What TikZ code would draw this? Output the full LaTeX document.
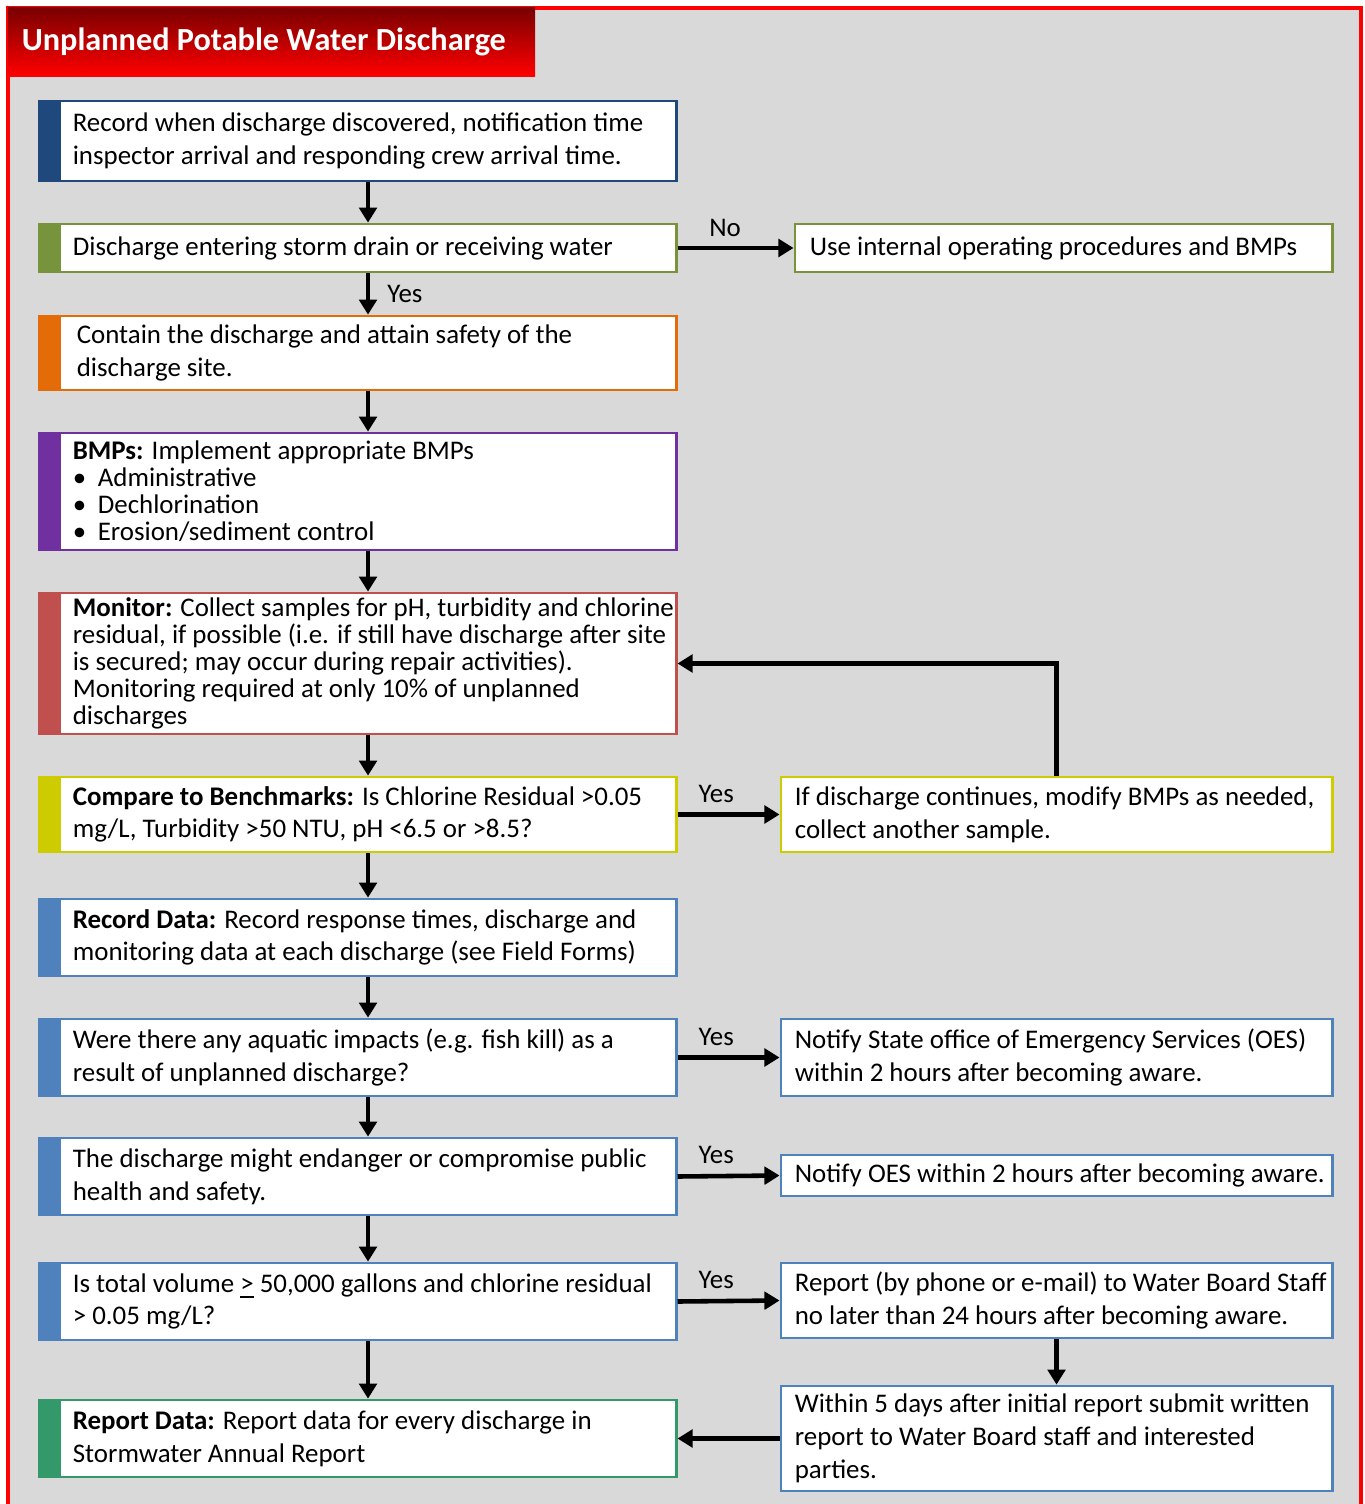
\documentclass[tikz,border=0pt]{standalone}
\usepackage{fontspec}
\setmainfont{Carlito}
\usetikzlibrary{arrows.meta}

\definecolor{panelgray}{HTML}{D9D9D9}
\definecolor{titledark}{HTML}{7A0000}
\definecolor{navy}{HTML}{1F497D}
\definecolor{olive}{HTML}{77933C}
\definecolor{pumpkin}{HTML}{E36C09}
\definecolor{violet}{HTML}{7030A0}
\definecolor{brick}{HTML}{C0504D}
\definecolor{lime}{HTML}{CCCC00}
\definecolor{steel}{HTML}{4F81BD}
\definecolor{jade}{HTML}{33996A}

\newcommand{\bulletitem}[1]{\makebox[0.25cm][l]{\textbullet}#1}

\begin{document}
\begin{tikzpicture}[x=0.01cm, y=-0.01cm,
  every node/.style={font=\fontsize{7.65}{9.3}\selectfont},
  padded/.style 2 args={
    execute at begin node={\hspace*{#1}\begin{minipage}{#2}\raggedright},
    execute at end node={\end{minipage}}},
  framebox/.style={draw=#1, fill=white, line width=0.75pt, inner sep=0pt},
  stepbox/.style={framebox=#1, minimum width=6.36cm, padded={0.33cm}{6.03cm},
    path picture={\fill[#1] (path picture bounding box.north west)
      rectangle ([xshift=0.21cm]path picture bounding box.south west);}},
  sidebox/.style={framebox=#1, minimum width=5.51cm, padded={0.14cm}{5.37cm}},
  narrowbox/.style={framebox=#1, minimum width=5.37cm, padded={0.15cm}{5.22cm}},
  tight/.style={font=\fontsize{7.65}{7.7}\selectfont},
  flow/.style={line width=1.3pt, -{Triangle[width=5pt,length=4.3pt]}},
  lbl/.style={inner sep=0pt}]

  \useasboundingbox (0,0) rectangle (1364,1504);

  % panel and frame
  \fill[panelgray] (8,8) rectangle (1361,1504);
  \draw[red, line width=1.15pt] (8,1504) -- (8,8) -- (1361,8) -- (1361,1504);

  \node[top color=titledark, middle color=red, bottom color=red, minimum width=5.27cm,
    minimum height=0.68cm, text width=4.99cm, inner xsep=0.14cm, align=flush left,
    text=white, font=\bfseries\fontsize{9.17}{10}\selectfont] (title) at (271.5,42)
    {Unplanned Potable Water Discharge};

  % main column
  \node[stepbox=navy, minimum height=0.80cm] (rec) at (358,141)
    {Record when discharge discovered, notification time\\inspector arrival and responding crew arrival time.};
  \node[stepbox=olive, minimum height=0.48cm] (drain) at (358,248)
    {Discharge entering storm drain or receiving water};
  \node[stepbox=pumpkin, minimum height=0.74cm] (contain) at (358,353)
    {\hspace*{0.04cm}Contain the discharge and attain safety of the\\\hspace*{0.04cm}discharge site.};
  \node[stepbox=violet, tight, minimum height=1.17cm] (bmp) at (358,491.5)
    {\textbf{BMPs:} Implement appropriate BMPs\\\bulletitem{Administrative}\\\bulletitem{Dechlorination}\\\bulletitem{Erosion/sediment control}};
  \node[stepbox=brick, tight, minimum height=1.41cm] (mon) at (358,663.5)
    {\textbf{Monitor:} Collect samples for pH, turbidity and chlorine\\residual, if possible (i.e. if still have discharge after site\\is secured; may occur during repair activities).\\Monitoring required at only 10\% of unplanned\\discharges};
  \node[stepbox=lime, minimum height=0.75cm] (bench) at (358,814.5)
    {\textbf{Compare to Benchmarks:} Is Chlorine Residual >0.05\\mg/L, Turbidity >50 NTU, pH <6.5 or >8.5?};
  \node[stepbox=steel, minimum height=0.77cm] (recdata) at (358,937.5)
    {\textbf{Record Data:} Record response times, discharge and\\monitoring data at each discharge (see Field Forms)};
  \node[stepbox=steel, minimum height=0.77cm] (aquatic) at (358,1057.5)
    {Were there any aquatic impacts (e.g. fish kill) as a\\result of unplanned discharge?};
  \node[stepbox=steel, minimum height=0.77cm] (danger) at (358,1176.5)
    {The discharge might endanger or compromise public\\health and safety.};
  \node[stepbox=steel, minimum height=0.77cm] (volume) at (358,1301.5)
    {Is total volume \underline{>} 50,000 gallons and chlorine residual\\> 0.05 mg/L?};
  \node[stepbox=jade, minimum height=0.77cm] (repdata) at (358,1438.5)
    {\textbf{Report Data:} Report data for every discharge in\\Stormwater Annual Report};

  % side column
  \node[narrowbox=olive, minimum height=0.48cm] (internal) at (1063.5,248)
    {Use internal operating procedures and BMPs};
  \node[sidebox=lime, minimum height=0.75cm] (again) at (1056.5,814.5)
    {If discharge continues, modify BMPs as needed,\\collect another sample.};
  \node[sidebox=steel, minimum height=0.77cm] (oes) at (1056.5,1057.5)
    {Notify State office of Emergency Services (OES)\\within 2 hours after becoming aware.};
  \node[sidebox=steel, minimum height=0.41cm] (oesshort) at (1056.5,1175.5)
    {Notify OES within 2 hours after becoming aware.};
  \node[sidebox=steel, minimum height=0.75cm] (board) at (1056.5,1300.5)
    {Report (by phone or e-mail) to Water Board Staff\\no later than 24 hours after becoming aware.};
  \node[sidebox=steel, minimum height=1.05cm] (written) at (1056.5,1438.5)
    {Within 5 days after initial report submit written\\report to Water Board staff and interested\\parties.};

  % down the main column
  \draw[flow] ([xshift=1mm]rec.south) -- ([xshift=1mm]drain.north);
  \draw[flow] ([xshift=1mm]drain.south) -- node[lbl, right=0.17cm] (yes1) {Yes} ([xshift=1mm]contain.north);
  \draw[flow] ([xshift=1mm]contain.south) -- ([xshift=1mm]bmp.north);
  \draw[flow] ([xshift=1mm]bmp.south) -- ([xshift=1mm]mon.north);
  \draw[flow] ([xshift=1mm]mon.south) -- ([xshift=1mm]bench.north);
  \draw[flow] ([xshift=1mm]bench.south) -- ([xshift=1mm]recdata.north);
  \draw[flow] ([xshift=1mm]recdata.south) -- ([xshift=1mm]aquatic.north);
  \draw[flow] ([xshift=1mm]aquatic.south) -- ([xshift=1mm]danger.north);
  \draw[flow] ([xshift=1mm]danger.south) -- ([xshift=1mm]volume.north);
  \draw[flow] ([xshift=1mm]volume.south) -- ([xshift=1mm]repdata.north);

  % branches to the right
  \draw[flow] (drain.east) -- node[lbl, pos=0.41, above=0.09cm] (no1) {No} (internal.west);
  \draw[flow] (bench.east) -- node[lbl, pos=0.38, above=0.1cm] (yes2) {Yes} (again.west);
  \draw[flow] (aquatic.east) -- node[lbl, pos=0.38, above=0.1cm] (yes3) {Yes} (oes.west);
  \draw[flow] (danger.east) -- node[lbl, pos=0.38, above=0.1cm] (yes4) {Yes} (oesshort.west);
  \draw[flow] (volume.east) -- node[lbl, pos=0.38, above=0.1cm] (yes5) {Yes} (board.west);

  % loop back and reporting
  \draw[flow] (again.north) |- (mon.east);
  \draw[flow] (board.south) -- (written.north);
  \draw[flow] (written.west) -- (repdata.east);
\end{tikzpicture}
\end{document}
